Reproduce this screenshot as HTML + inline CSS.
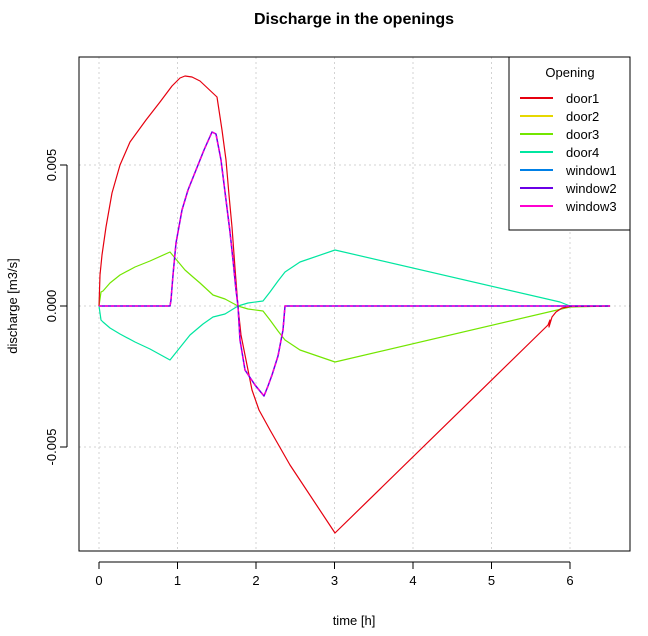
<!DOCTYPE html><html><head><style>body{margin:0;background:#fff}</style></head><body>
<svg width="648" height="631" xmlns="http://www.w3.org/2000/svg" font-family="Liberation Sans, sans-serif">
<rect width="648" height="631" fill="#fff"/>
<text x="354" y="24" text-anchor="middle" font-size="16" font-weight="bold">Discharge in the openings</text>
<g stroke="#d3d3d3" stroke-dasharray="2,3" stroke-width="1">
<line x1="99" y1="57" x2="99" y2="551"/><line x1="177.5" y1="57" x2="177.5" y2="551"/><line x1="256" y1="57" x2="256" y2="551"/><line x1="334.5" y1="57" x2="334.5" y2="551"/><line x1="413" y1="57" x2="413" y2="551"/><line x1="491.5" y1="57" x2="491.5" y2="551"/><line x1="570" y1="57" x2="570" y2="551"/>
<line x1="79" y1="165" x2="630" y2="165"/><line x1="79" y1="306" x2="630" y2="306"/><line x1="79" y1="447" x2="630" y2="447"/>
</g>
<rect x="79" y="57" width="551" height="494" fill="none" stroke="#000"/>
<g stroke="#000"><line x1="99" y1="562" x2="570" y2="562"/>
<line x1="99" y1="562" x2="99" y2="569"/><line x1="177.5" y1="562" x2="177.5" y2="569"/><line x1="256" y1="562" x2="256" y2="569"/><line x1="334.5" y1="562" x2="334.5" y2="569"/><line x1="413" y1="562" x2="413" y2="569"/><line x1="491.5" y1="562" x2="491.5" y2="569"/><line x1="570" y1="562" x2="570" y2="569"/>
<line x1="67" y1="165" x2="67" y2="447"/><line x1="60" y1="165" x2="67" y2="165"/><line x1="60" y1="306" x2="67" y2="306"/><line x1="60" y1="447" x2="67" y2="447"/></g>
<g font-size="13" text-anchor="middle"><text x="99" y="585">0</text><text x="177.5" y="585">1</text><text x="256" y="585">2</text><text x="334.5" y="585">3</text><text x="413" y="585">4</text><text x="491.5" y="585">5</text><text x="570" y="585">6</text>
<text x="354" y="625">time [h]</text>
<text transform="translate(56,165) rotate(-90)">0.005</text><text transform="translate(56,306) rotate(-90)">0.000</text><text transform="translate(56,447) rotate(-90)">-0.005</text>
<text transform="translate(17,306) rotate(-90)">discharge [m3/s]</text></g>
<g fill="none" stroke-width="1.2" stroke-linejoin="round">
<polyline stroke="#00e6a0" points="99,306 101,320 103,322 110,328 120,334 135,342 150,349 170,360 178,350 190,335 203,324 213,317 225,314 238,306 248,303 263,301 270,292 278,281 285,272 300,262 335,250 560,302 570,306 610,306"/>
<polyline stroke="#73e600" points="99,306 101,292 103,291 110,283 120,275 135,267 150,261 170,252 175,258 185,270 193,277 200,283 213,295 225,299 238,306 248,309 263,311 270,320 278,331 285,340 300,350 335,362 570,307 610,306"/>
<polyline stroke="#e6000f" points="99,306 100,275 102,255 106,227 112,193 120,165 130,142 146,120 160,102 172,86 180,78 185,76 192,77 200,81 217,97 222,130 226,160 229,195 232,227 235,268 238,307 241,335 246,360 252,390 259,410 270,430 290,465 335,533 548,325 550,320 549,327 552,317 556,312 562,308 570,306.5 610,306"/>
<polyline stroke="#6a00e6" stroke-width="1.5" points="99,306 170,306 171,300 173,275 176,243 182,210 188,190 196,170 204,150 212,132 216,134 221,160 226,200 230,232 233,260 236,290 238,306 240,340 245,370 255,385 264,396 268,386 272,375 278,356 283,330 285,306 610,306"/>
<polyline stroke="#ff00d0" stroke-width="1.5" stroke-dasharray="3,3" points="99,306 170,306 171,300 173,275 176,243 182,210 188,190 196,170 204,150 212,132 216,134 221,160 226,200 230,232 233,260 236,290 238,306 240,340 245,370 255,385 264,396 268,386 272,375 278,356 283,330 285,306 610,306"/>
</g>
<rect x="509" y="57" width="121" height="173" fill="#fff" stroke="#000"/>
<text x="570" y="77" font-size="13" text-anchor="middle">Opening</text>
<g stroke-width="2"><line x1="520" y1="98" x2="553" y2="98" stroke="#e6000f"/><line x1="520" y1="116" x2="553" y2="116" stroke="#e6d800"/><line x1="520" y1="134" x2="553" y2="134" stroke="#73e600"/><line x1="520" y1="152" x2="553" y2="152" stroke="#00e6a0"/><line x1="520" y1="170" x2="553" y2="170" stroke="#0080e6"/><line x1="520" y1="188" x2="553" y2="188" stroke="#6a00e6"/><line x1="520" y1="206" x2="553" y2="206" stroke="#ff00d0"/></g>
<g font-size="13"><text x="566" y="103">door1</text><text x="566" y="121">door2</text><text x="566" y="139">door3</text><text x="566" y="157">door4</text><text x="566" y="175">window1</text><text x="566" y="193">window2</text><text x="566" y="211">window3</text></g>
</svg></body></html>
